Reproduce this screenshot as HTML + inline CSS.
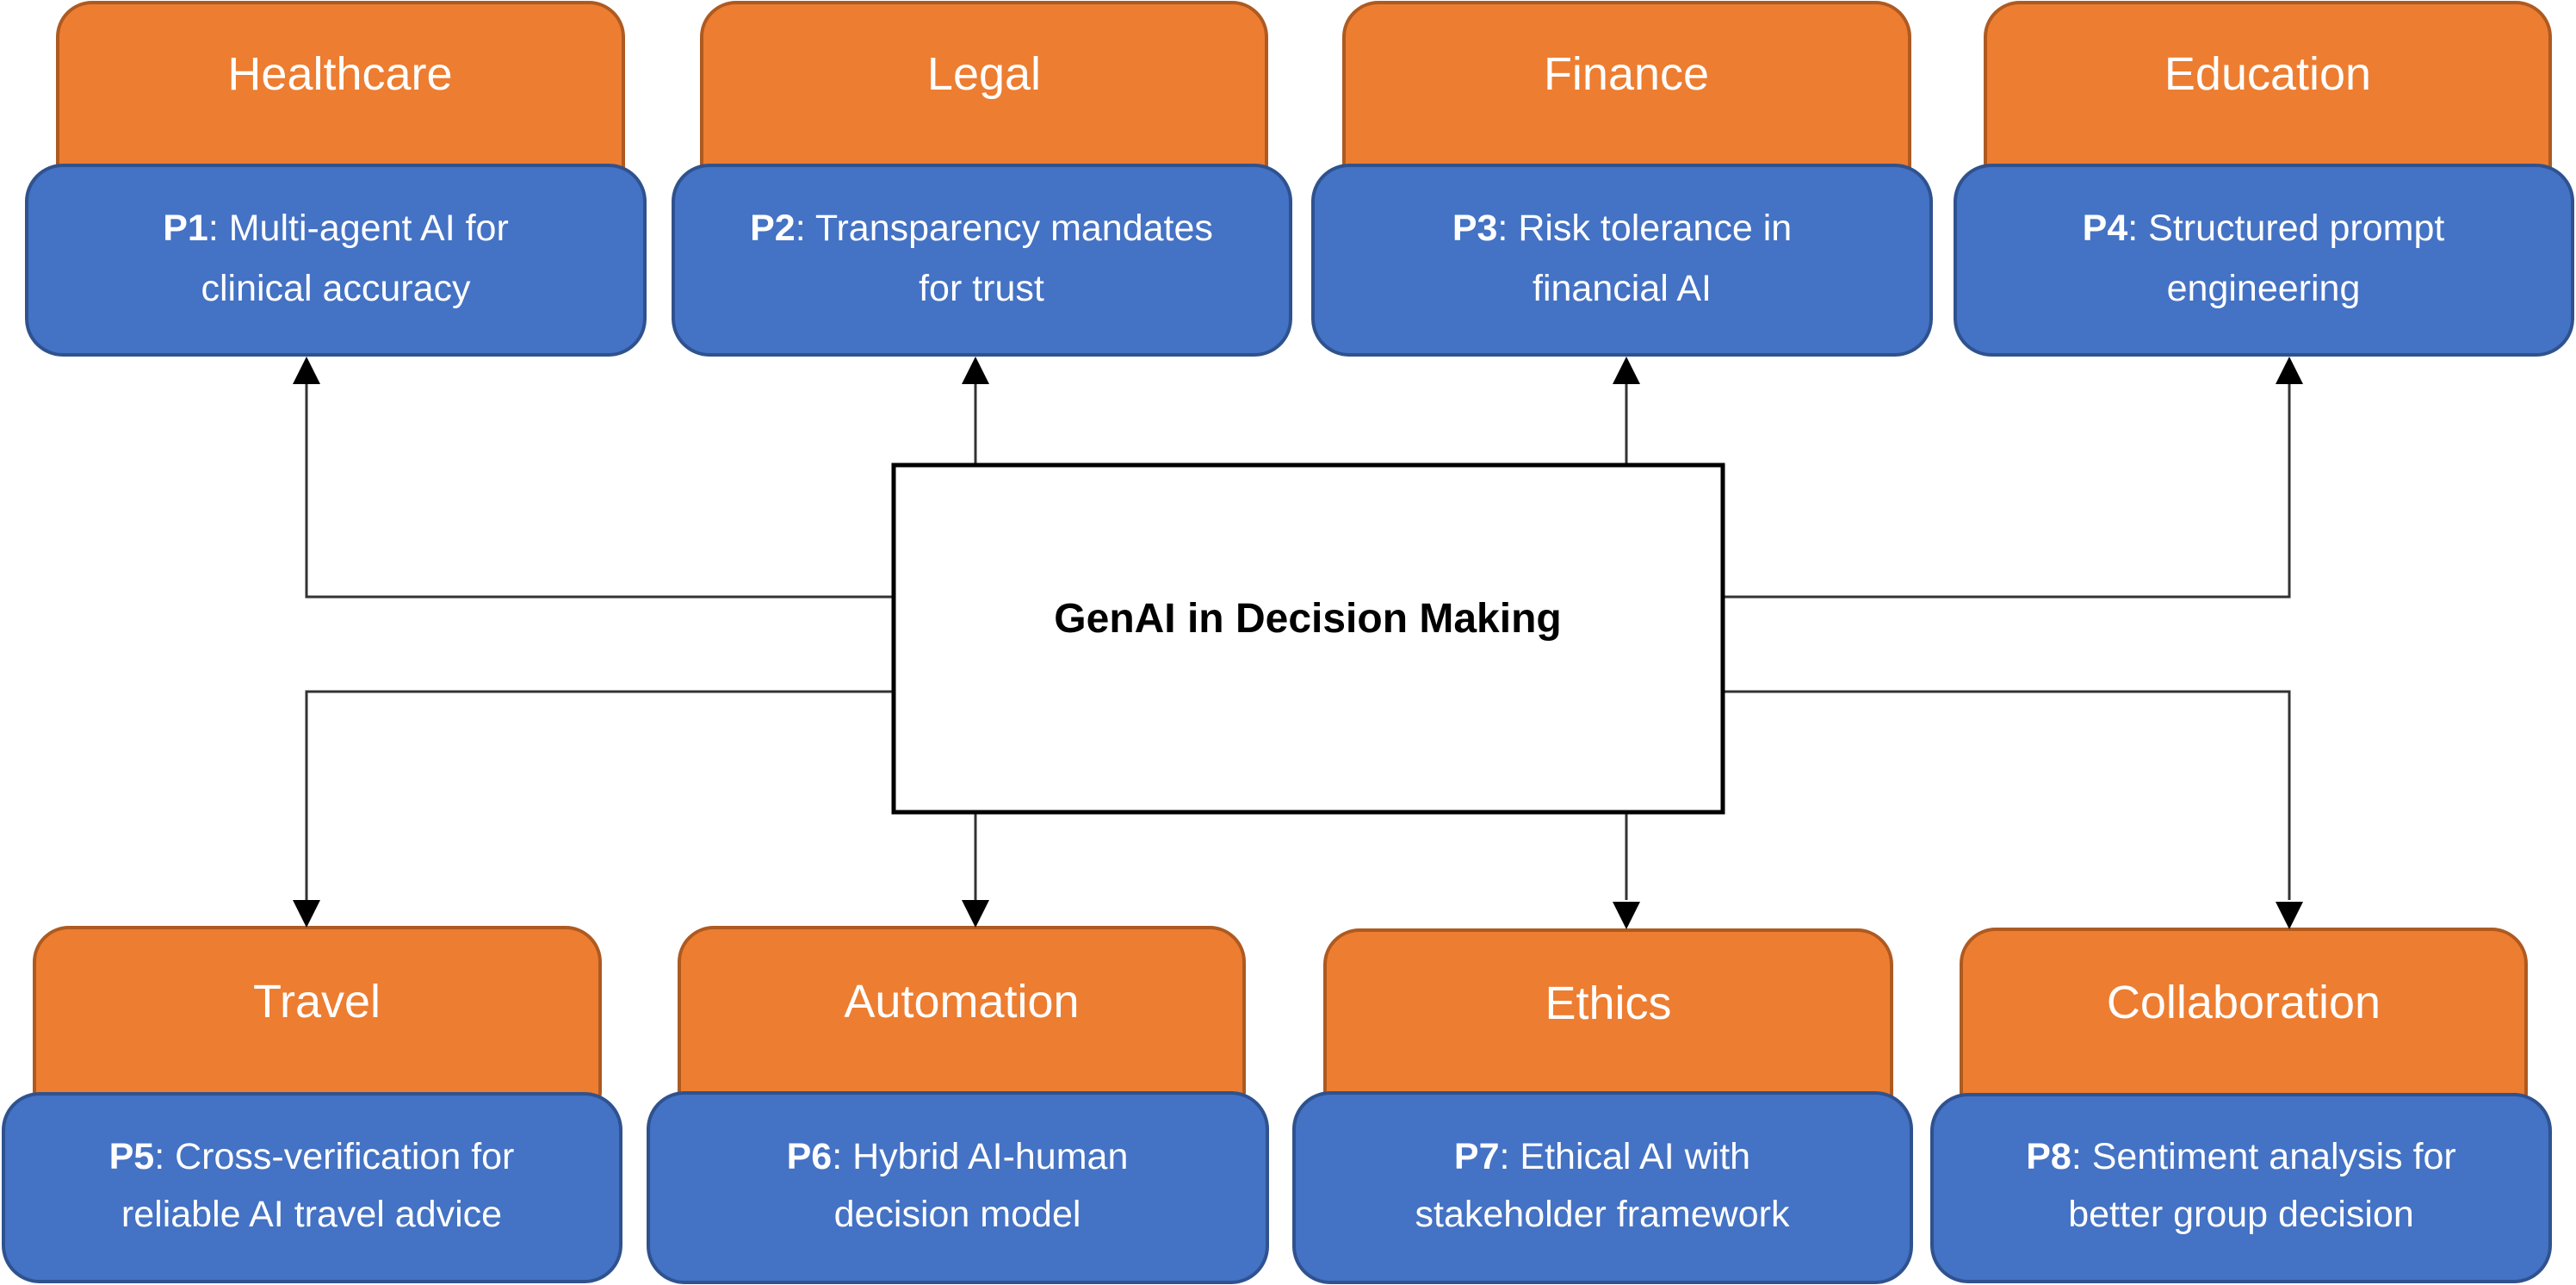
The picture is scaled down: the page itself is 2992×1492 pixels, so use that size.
<!DOCTYPE html>
<html><head><meta charset="utf-8"><style>
html,body{margin:0;padding:0;background:#fff;}
svg{display:block;}
text{font-family:"Liberation Sans",sans-serif;fill:#fff;text-anchor:middle;}
</style></head><body>
<svg width="2992" height="1492" viewBox="0 0 2992 1492" xmlns="http://www.w3.org/2000/svg">
<defs>
<marker id="ah" markerWidth="10" markerHeight="10" refX="9" refY="5" orient="auto" markerUnits="userSpaceOnUse" viewBox="0 0 10 10">
<path d="M0,0 L10,5 L0,10 z" fill="#000"/>
</marker>
</defs>
<g fill="#ED7D31" stroke="#AE5A21" stroke-width="4">
<rect x="67" y="3" width="657" height="230" rx="40"/>
<rect x="815" y="3" width="656" height="230" rx="40"/>
<rect x="1561" y="3" width="657" height="230" rx="40"/>
<rect x="2306" y="3" width="656" height="230" rx="40"/>
<rect x="40" y="1077" width="657" height="230" rx="40"/>
<rect x="789" y="1077" width="656" height="230" rx="40"/>
<rect x="1539" y="1080" width="658" height="230" rx="40"/>
<rect x="2278" y="1079" width="656" height="230" rx="40"/>
</g>
<g fill="#4472C4" stroke="#2F528F" stroke-width="4">
<rect x="31" y="192" width="718" height="220" rx="42"/>
<rect x="782" y="192" width="717" height="220" rx="42"/>
<rect x="1525" y="192" width="718" height="220" rx="42"/>
<rect x="2271" y="192" width="717" height="220" rx="42"/>
<rect x="4" y="1270" width="717" height="218" rx="42"/>
<rect x="753" y="1269" width="719" height="220" rx="42"/>
<rect x="1503" y="1269" width="717" height="220" rx="42"/>
<rect x="2244" y="1271" width="718" height="217" rx="42"/>
</g>
<g stroke="#333" stroke-width="3" fill="none">
<polyline points="1036,693 356,693 356,446"/>
<line x1="1133" y1="539" x2="1133" y2="446"/>
<line x1="1889" y1="539" x2="1889" y2="446"/>
<polyline points="2003,693 2659,693 2659,446"/>
<polyline points="1036,803 356,803 356,1045"/>
<line x1="1133" y1="944" x2="1133" y2="1045"/>
<line x1="1889" y1="944" x2="1889" y2="1045"/>
<polyline points="2003,803 2659,803 2659,1045"/>
</g>
<g fill="#000">
<path d="M356,414 L340,446 L372,446 z"/>
<path d="M1133,414 L1117,446 L1149,446 z"/>
<path d="M1889,414 L1873,446 L1905,446 z"/>
<path d="M2659,414 L2643,446 L2675,446 z"/>
<path d="M356,1077 L340,1045 L372,1045 z"/>
<path d="M1133,1077 L1117,1045 L1149,1045 z"/>
<path d="M1889,1079 L1873,1047 L1905,1047 z"/>
<path d="M2659,1079 L2643,1047 L2675,1047 z"/>
</g>
<rect x="1038" y="540" width="963" height="403" fill="#fff" stroke="#000" stroke-width="5"/>
<text x="1519" y="734" style="fill:#000;font-weight:bold;font-size:48px">GenAI in Decision Making</text>
<g style="font-size:54px">
<text x="395" y="104">Healthcare</text>
<text x="1143" y="104">Legal</text>
<text x="1889" y="104">Finance</text>
<text x="2634" y="104">Education</text>
<text x="368" y="1181">Travel</text>
<text x="1117" y="1181">Automation</text>
<text x="1868" y="1183">Ethics</text>
<text x="2606" y="1182">Collaboration</text>
</g>
<g style="font-size:43px">
<text x="390" y="279"><tspan font-weight="bold">P1</tspan>: Multi-agent AI for</text>
<text x="390" y="349">clinical accuracy</text>
<text x="1140" y="279"><tspan font-weight="bold">P2</tspan>: Transparency mandates</text>
<text x="1140" y="349">for trust</text>
<text x="1884" y="279"><tspan font-weight="bold">P3</tspan>: Risk tolerance in</text>
<text x="1884" y="349">financial AI</text>
<text x="2629" y="279"><tspan font-weight="bold">P4</tspan>: Structured prompt</text>
<text x="2629" y="349">engineering</text>
<text x="362" y="1357"><tspan font-weight="bold">P5</tspan>: Cross-verification for</text>
<text x="362" y="1424">reliable AI travel advice</text>
<text x="1112" y="1357"><tspan font-weight="bold">P6</tspan>: Hybrid AI-human</text>
<text x="1112" y="1424">decision model</text>
<text x="1861" y="1357"><tspan font-weight="bold">P7</tspan>: Ethical AI with</text>
<text x="1861" y="1424">stakeholder framework</text>
<text x="2603" y="1357"><tspan font-weight="bold">P8</tspan>: Sentiment analysis for</text>
<text x="2603" y="1424">better group decision</text>
</g>
</svg>
</body></html>
